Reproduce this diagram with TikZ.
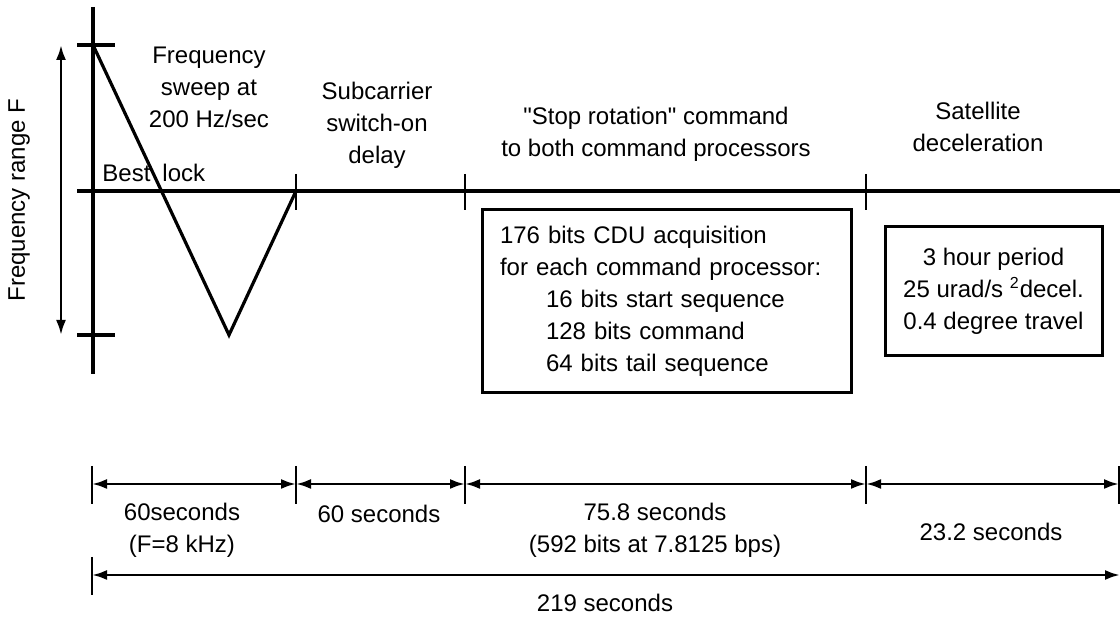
\documentclass[tikz,border=0pt]{standalone}
\usepackage{fontspec}
\setmainfont{Liberation Sans}[Ligatures=TeXOff]
\usetikzlibrary{arrows.meta,positioning}

\begin{document}
\begin{tikzpicture}[x=0.5pt, y=-0.5pt, >={Latex[length=7.5pt,width=5pt]},
    font=\fontsize{12}{16}\selectfont,
    axis/.style={line width=1.6pt},
    tick/.style={line width=1.2pt},
    dim/.style={<->, line width=1.3pt},
    lbl/.style={align=center, inner sep=0pt},
    infobox/.style={draw, line width=1.5pt, inner sep=0pt}]
    \useasboundingbox (0,0) rectangle (1120,619);
    % frequency axis and sweep
    \coordinate (top) at (93,45);
    \coordinate (low) at (229,335);
    \coordinate (lock) at (296,191);
    \draw[axis] (93,7) -- (93,374);
    \draw[axis] (77,45) -- (115,45);
    \draw[axis] (77,335) -- (115,335);
    \draw[axis] (77,191) -- (1120,191);
    \draw[axis] (top) -- (low) -- (lock);
    \foreach \x in {296,465,866}
        \draw[tick] (\x,174) -- (\x,210);
    \coordinate (fhi) at (61,45);
    \coordinate (flo) at (61,335);
    \draw[dim] (fhi) -- (flo);
    \node[lbl, rotate=90] (frange) at (19,200) {Frequency range F};
    \node[lbl, anchor=west] (best) at (102,173) {Best\hspace{6pt}lock};
    % phase labels
    \node[lbl] (sweep) at (209,87) {Frequency\\sweep at\\200 Hz/sec};
    \node[lbl] (delay) at (377,125) {Subcarrier\\switch-on\\delay};
    \node[lbl] (stop) at (656,134) {"Stop rotation" command\\to both command processors};
    \node[lbl] (decel) at (978,127) {Satellite\\deceleration};
    % boxes
    \node[infobox, minimum height=91.5pt, text width=166.5pt, inner xsep=9pt, align=left] (cdu) at (666.5,301.5)
        {176 bits CDU acquisition\\for each command processor:\\
         \hspace*{23pt}16 bits start sequence\\\hspace*{23pt}128 bits command\\\hspace*{23pt}64 bits tail sequence};
    \node[infobox, minimum width=108.5pt, minimum height=64.5pt, align=center] (period) at (993.5,291.5)
        {3 hour period\\25 urad/s \textsuperscript{2}decel.\\0.4 degree travel};
    % durations
    \foreach \x [count=\i from 0] in {92,296,465,866,1119} {
        \draw[tick] (\x,466) -- (\x,504);
        \coordinate (d\i) at (\x,484);
    }
    \draw[dim] (d0) -- (d1);
    \draw[dim] (d1) -- (d2);
    \draw[dim] (d2) -- (d3);
    \draw[dim] (d3) -- (d4);
    \node[lbl] (t1) at (182,530) {60seconds\\(F=8 kHz)};
    \node[lbl] (t2) at (379,514) {60 seconds};
    \node[lbl] (t3) at (655,530) {75.8 seconds\\(592 bits at 7.8125 bps)};
    \node[lbl] (t4) at (991,532) {23.2 seconds};
    \draw[tick] (92,557) -- (92,595);
    \coordinate (s0) at (92,575);
    \coordinate (s1) at (1120,575);
    \draw[dim] (s0) -- (s1);
    \node[lbl] (total) at (605,603) {219 seconds};
\end{tikzpicture}
\end{document}
